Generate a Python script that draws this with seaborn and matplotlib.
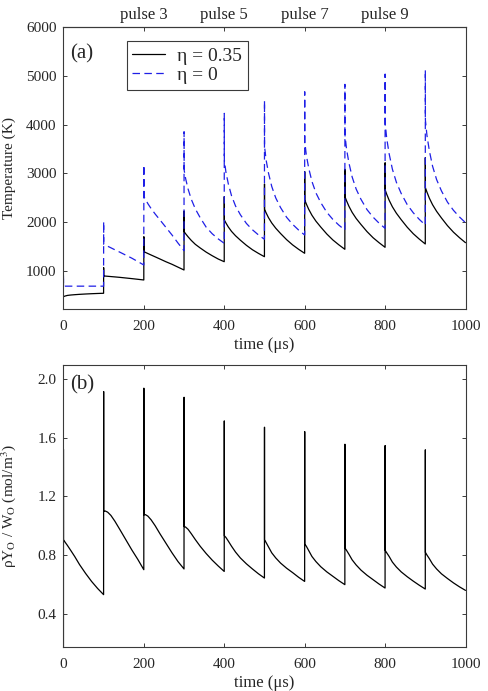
import numpy as np
import pandas as pd
import matplotlib
matplotlib.use('Agg')
import matplotlib.pyplot as plt
import seaborn as sns

# pulse start times (us) and sampling offsets inside each 100 us pulse period
pulse_times = [0, 100, 200, 300, 400, 500, 600, 700, 800, 900]
offsets = [0, 0.15, 4, 10, 18, 28, 40, 55, 70, 85, 99.85]

# temperature (K), eta = 0.35 : one row per pulse, values at the offsets above
temp_eta035 = [
    [470, 470, 482, 495, 503, 510, 517, 524, 530, 535, 539],
    [1065, 894, 892, 888, 882, 875, 866, 853, 840, 826, 812],
    [1701, 1393, 1378, 1355, 1325, 1288, 1243, 1186, 1134, 1075, 1017],
    [2229, 1803, 1760, 1698, 1624, 1544, 1470, 1384, 1310, 1242, 1187],
    [2522, 2044, 1984, 1901, 1810, 1720, 1629, 1524, 1433, 1358, 1290],
    [2783, 2263, 2191, 2091, 1983, 1875, 1766, 1640, 1532, 1441, 1360],
    [3036, 2455, 2374, 2263, 2141, 2019, 1898, 1756, 1634, 1533, 1442],
    [3085, 2522, 2439, 2325, 2200, 2075, 1951, 1805, 1680, 1577, 1483],
    [3220, 2660, 2571, 2449, 2316, 2183, 2050, 1895, 1762, 1651, 1551],
    [3323, 2707, 2617, 2492, 2357, 2222, 2086, 1928, 1793, 1680, 1578],
]
# temperature (K), eta = 0
temp_eta0 = [
    [915, 685, 685, 685, 685, 685, 685, 685, 685, 685, 685],
    [2010, 1545, 1528, 1505, 1473, 1432, 1384, 1322, 1260, 1190, 1120],
    [3173, 2523, 2468, 2379, 2279, 2168, 2046, 1891, 1736, 1569, 1414],
    [3857, 3070, 2889, 2679, 2468, 2272, 2092, 1896, 1761, 1655, 1565],
    [4234, 3275, 3031, 2787, 2543, 2331, 2152, 1973, 1843, 1737, 1648],
    [4494, 3549, 3277, 3005, 2733, 2497, 2298, 2099, 1954, 1836, 1736],
    [4678, 3651, 3379, 3107, 2835, 2599, 2400, 2201, 2056, 1938, 1838],
    [4830, 3789, 3502, 3214, 2927, 2678, 2467, 2256, 2103, 1978, 1873],
    [5041, 4029, 3716, 3403, 3089, 2818, 2588, 2359, 2192, 2056, 1941],
    [5123, 4097, 3781, 3465, 3148, 2874, 2642, 2411, 2242, 2105, 1989],
]
# atomic oxygen concentration rho*Y_O/W_O (mol/m^3)
oxygen = [
    [1.521, 0.904, 0.888, 0.865, 0.832, 0.79, 0.735, 0.675, 0.62, 0.572, 0.53],
    [1.914, 1.097, 1.10, 1.092, 1.07, 1.03, 0.975, 0.905, 0.835, 0.77, 0.70],
    [1.937, 1.074, 1.075, 1.065, 1.04, 1.0, 0.945, 0.88, 0.815, 0.755, 0.705],
    [1.875, 0.995, 0.99, 0.975, 0.945, 0.905, 0.86, 0.81, 0.765, 0.725, 0.688],
    [1.714, 0.931, 0.92, 0.895, 0.86, 0.82, 0.78, 0.74, 0.705, 0.672, 0.643],
    [1.671, 0.904, 0.885, 0.855, 0.815, 0.78, 0.745, 0.71, 0.68, 0.648, 0.62],
    [1.641, 0.875, 0.86, 0.83, 0.79, 0.755, 0.72, 0.685, 0.655, 0.625, 0.598],
    [1.555, 0.848, 0.832, 0.805, 0.767, 0.732, 0.697, 0.662, 0.632, 0.602, 0.575],
    [1.546, 0.831, 0.815, 0.79, 0.752, 0.718, 0.685, 0.652, 0.622, 0.594, 0.568],
    [1.517, 0.818, 0.80, 0.775, 0.738, 0.705, 0.672, 0.64, 0.61, 0.583, 0.559],
]
start_values = {'eta035': 470, 'eta0': 685, 'oxygen': 0.0}

pulse_labels = ['pulse 3', 'pulse 5', 'pulse 7', 'pulse 9']
pulse_label_pos = [200, 400, 600, 800]


def build(rows, start):
    t = [0.0]
    v = [start]
    for p, row in zip(pulse_times, rows):
        for o, val in zip(offsets, row):
            t.append(p + o)
            v.append(val)
    return pd.DataFrame({'time': t, 'value': v})


df_a1 = build(temp_eta035, start_values['eta035'])
df_a0 = build(temp_eta0, start_values['eta0'])
df_b = build(oxygen, start_values['oxygen'])

sns.set_theme(style='white')
serif = ['Liberation Serif', 'DejaVu Serif']
plt.rcParams['font.family'] = serif
plt.rcParams['mathtext.fontset'] = 'stix'
plt.rcParams['axes.edgecolor'] = '#3a3a3a'
plt.rcParams['axes.linewidth'] = 0.8

fig = plt.figure(figsize=(4.88, 6.91), dpi=100)
ax1 = fig.add_axes([0.130, 0.5524, 0.824, 0.408])
ax2 = fig.add_axes([0.130, 0.0630, 0.824, 0.4088])

sns.lineplot(data=df_a1, x='time', y='value', ax=ax1, color='black', lw=0.9,
             sort=False, estimator=None, label='η = 0.35')
sns.lineplot(data=df_a0, x='time', y='value', ax=ax1, color='#1f1fe6', lw=0.9,
             sort=False, estimator=None, label='η = 0', dashes=(6, 3.5))
sns.lineplot(data=df_b, x='time', y='value', ax=ax2, color='black', lw=0.9,
             sort=False, estimator=None)

for ax in (ax1, ax2):
    ax.set_xlim(0, 1000)
    ax.set_xticks([0, 200, 400, 600, 800, 1000])
    ax.tick_params(direction='in', length=3, width=0.7, color='#3a3a3a',
                   right=True, left=True, bottom=True, labelsize=11, pad=5)
    ax.tick_params(axis='x', pad=7.5)
    ax.set_xlabel('time (μs)', fontsize=12, labelpad=3)
    for s in ax.spines.values():
        s.set_visible(True)

ax1.set_ylim(210, 6000)
ax1.set_yticks([1000, 2000, 3000, 4000, 5000, 6000])
ax1.set_ylabel('Temperature (K)', fontsize=11)
ax1.yaxis.set_label_coords(-0.118, 0.5)
ax1.text(0.016, 0.905, '(a)', transform=ax1.transAxes, fontsize=15, va='center')

secax = ax1.secondary_xaxis('top')
secax.set_xticks(pulse_label_pos, labels=pulse_labels)
secax.tick_params(direction='in', length=3, width=0.7, color='#3a3a3a',
                  labelsize=12, pad=3)

leg = ax1.legend(loc='upper left', bbox_to_anchor=(0.157, 0.951), borderaxespad=0,
                 prop={'family': serif, 'size': 14}, handlelength=1.7,
                 fancybox=False, framealpha=1, edgecolor='#3a3a3a', borderpad=0.3,
                 labelspacing=0.1, handletextpad=0.6)
leg.get_frame().set_linewidth(0.8)

ax2.set_ylim(0.17, 2.095)
ax2.set_yticks([0.4, 0.8, 1.2, 1.6, 2.0])
ax2.yaxis.set_major_formatter(matplotlib.ticker.FormatStrFormatter('%.1f'))
ax2.tick_params(top=True)
ax2.set_ylabel(r'ρY$_{\rm O}$ / W$_{\rm O}$ (mol/m$^3$)', fontsize=11)
ax2.yaxis.set_label_coords(-0.112, 0.5)
ax2.text(0.016, 0.93, '(b)', transform=ax2.transAxes, fontsize=15, va='center')

fig.savefig('out.png', dpi=100)
